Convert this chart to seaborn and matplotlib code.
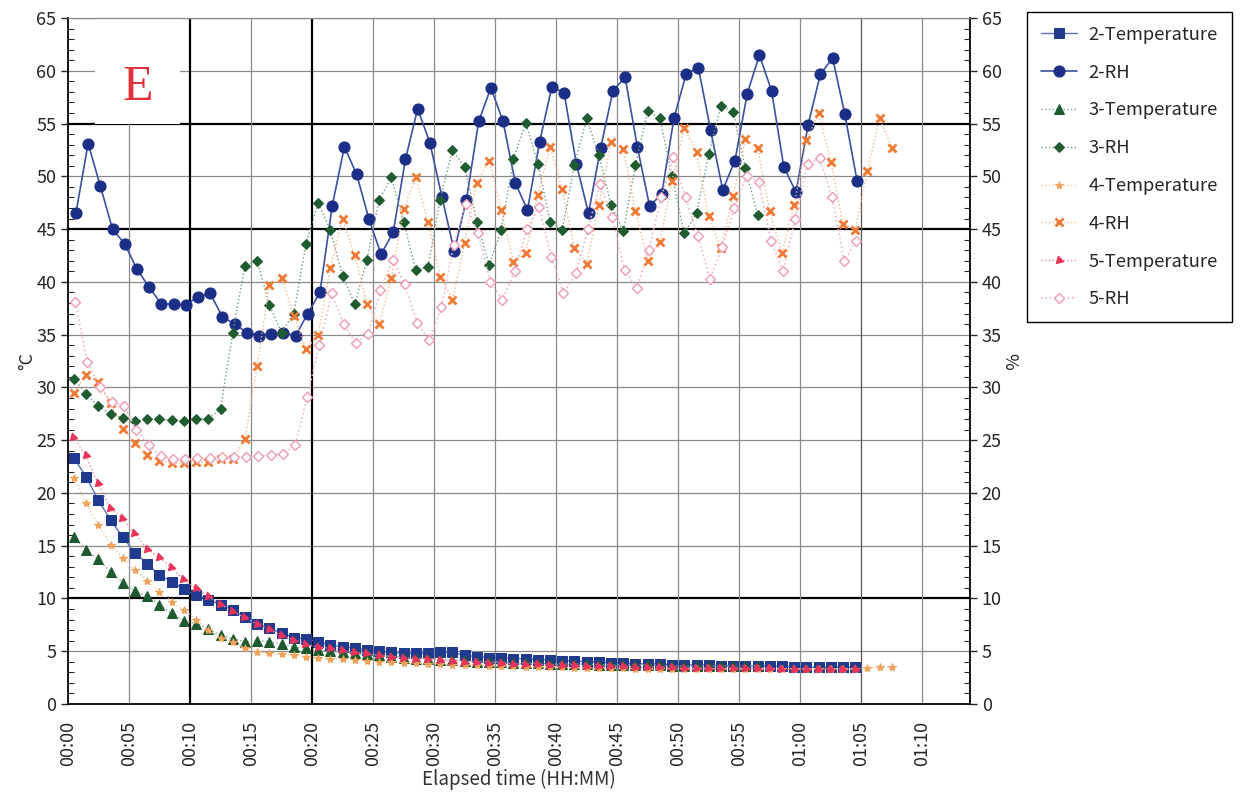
import numpy as np
import matplotlib
matplotlib.use("Agg")
import matplotlib.pyplot as plt
from matplotlib.patches import Rectangle
import seaborn as sns

# Readings every minute
t2_temp = [23.3, 21.5, 19.3, 17.4, 15.8, 14.3, 13.3, 12.2, 11.6, 10.9,
           10.3, 9.9, 9.4, 8.9, 8.2, 7.6, 7.2, 6.7, 6.3, 6.2,
           5.9, 5.6, 5.4, 5.3, 5.1, 5.0, 4.9, 4.8, 4.8, 4.8,
           4.9, 4.9, 4.6, 4.5, 4.4, 4.4, 4.3, 4.3, 4.2, 4.2,
           4.1, 4.1, 4.0, 4.0, 3.9, 3.9, 3.8, 3.8, 3.8, 3.7,
           3.7, 3.7, 3.7, 3.6, 3.6, 3.6, 3.6, 3.6, 3.6, 3.5,
           3.5, 3.5, 3.5, 3.5, 3.5]
rh2 = [46.5, 53.1, 49.1, 45.0, 43.6, 41.2, 39.5, 37.9, 37.9, 37.8,
       38.6, 38.9, 36.7, 36.0, 35.2, 34.9, 35.1, 35.2, 34.9, 37.0,
       39.0, 47.2, 52.8, 50.2, 46.0, 42.6, 44.7, 51.6, 56.4, 53.2,
       48.0, 42.9, 47.8, 55.2, 58.4, 55.2, 49.4, 46.8, 53.3, 58.5,
       57.9, 51.2, 46.5, 52.7, 58.1, 59.4, 52.8, 47.2, 48.3, 55.5,
       59.7, 60.3, 54.4, 48.7, 51.5, 57.8, 61.5, 58.1, 50.9, 48.5,
       54.9, 59.7, 61.2, 55.9, 49.6]
t3_temp = [15.8, 14.6, 13.7, 12.5, 11.5, 10.7, 10.2, 9.4, 8.6, 7.9,
           7.6, 7.1, 6.5, 6.2, 5.9, 6.0, 5.9, 5.7, 5.4, 5.3,
           5.1, 5.0, 4.9, 4.8, 4.7, 4.6, 4.5, 4.4, 4.3, 4.3,
           4.2, 4.2, 4.1, 4.0, 4.0, 4.0, 3.9, 3.9, 3.9, 3.8,
           3.8, 3.8, 3.8, 3.7, 3.7, 3.7, 3.7, 3.7, 3.7, 3.6,
           3.6, 3.6, 3.6, 3.6, 3.6, 3.6, 3.6]
rh3 = [30.8, 29.4, 28.2, 27.5, 27.1, 26.8, 27.0, 27.0, 26.9, 26.8,
       27.0, 27.0, 28.0, 35.2, 41.5, 42.0, 37.8, 35.2, 37.0, 43.6,
       47.5, 44.9, 40.6, 37.9, 42.1, 47.8, 49.9, 45.7, 41.1, 41.4,
       47.8, 52.5, 50.9, 45.7, 41.6, 44.9, 51.6, 55.1, 51.2, 45.7,
       44.9, 51.1, 55.5, 52.0, 47.3, 44.8, 51.1, 56.2, 55.5, 50.0,
       44.6, 46.5, 52.1, 56.7, 56.1, 50.8, 46.3]
t4_temp = [21.4, 19.0, 17.0, 15.1, 13.8, 12.7, 11.7, 10.6, 9.7, 8.9,
           8.0, 7.0, 6.3, 5.9, 5.3, 4.9, 4.8, 4.7, 4.6, 4.5,
           4.4, 4.3, 4.3, 4.2, 4.1, 4.0, 4.0, 3.9, 3.9, 3.8,
           3.8, 3.7, 3.7, 3.7, 3.6, 3.6, 3.6, 3.5, 3.5, 3.5,
           3.5, 3.4, 3.4, 3.4, 3.4, 3.4, 3.3, 3.3, 3.3, 3.3,
           3.3, 3.3, 3.3, 3.3, 3.3, 3.3, 3.3, 3.3, 3.3, 3.3,
           3.3, 3.3, 3.3, 3.3, 3.3, 3.4, 3.5, 3.5]
rh4 = [29.5, 31.2, 30.5, 28.5, 26.1, 24.7, 23.6, 23.0, 22.8, 22.8,
       22.9, 22.9, 23.2, 23.2, 25.1, 32.0, 39.7, 40.4, 36.8, 33.6,
       35.0, 41.3, 46.0, 42.5, 37.9, 36.0, 40.4, 46.9, 49.9, 45.7,
       40.5, 38.3, 43.7, 49.4, 51.5, 46.8, 41.9, 42.7, 48.2, 52.8,
       48.8, 43.2, 41.7, 47.3, 53.3, 52.6, 46.7, 42.0, 43.8, 49.6,
       54.6, 52.3, 46.2, 43.2, 48.1, 53.5, 52.7, 46.7, 42.7, 47.3,
       53.4, 56.0, 51.4, 45.5, 44.9, 50.5, 55.5, 52.7]
t5_temp = [25.3, 23.6, 20.9, 18.6, 17.6, 16.2, 14.7, 13.9, 13.0, 11.8,
           11.0, 10.2, 9.5, 8.8, 8.2, 7.6, 7.1, 6.5, 6.1, 5.7,
           5.4, 5.3, 5.1, 4.9, 4.8, 4.6, 4.5, 4.4, 4.3, 4.3,
           4.2, 4.1, 4.0, 4.0, 3.9, 3.9, 3.8, 3.8, 3.8, 3.7,
           3.7, 3.7, 3.6, 3.6, 3.6, 3.6, 3.5, 3.5, 3.5, 3.5,
           3.4, 3.4, 3.4, 3.4, 3.4, 3.4, 3.4, 3.4, 3.3, 3.3,
           3.3, 3.3, 3.3, 3.3, 3.3]
rh5 = [38.1, 32.4, 30.0, 28.6, 28.2, 26.0, 24.5, 23.5, 23.2, 23.2,
       23.3, 23.3, 23.4, 23.4, 23.4, 23.5, 23.6, 23.7, 24.5, 29.1,
       34.0, 38.9, 36.0, 34.2, 35.1, 39.2, 42.1, 39.8, 36.1, 34.5,
       37.6, 43.5, 47.4, 44.6, 40.0, 38.3, 41.0, 45.0, 47.1, 42.4,
       38.9, 40.8, 45.0, 49.3, 46.1, 41.1, 39.4, 43.0, 48.0, 51.8,
       48.0, 44.3, 40.3, 43.3, 47.0, 50.0, 49.5, 43.9, 41.0, 46.0,
       51.2, 51.7, 48.0, 42.0, 43.9]

# first reading time (minutes) of each logger channel
start_min = {"2-Temperature": 0.5, "2-RH": 0.65, "3-Temperature": 0.5, "3-RH": 0.5,
             "4-Temperature": 0.5, "4-RH": 0.5, "5-Temperature": 0.45, "5-RH": 0.6}

series = [
    ("2-Temperature", t2_temp, dict(color="#5a72bd", marker="s", markersize=6.5,
                                    markerfacecolor="#1f3a8f", markeredgecolor="#1f3a8f",
                                    linestyle="-", linewidth=1.0)),
    ("2-RH", rh2, dict(color="#3a50a0", marker="o", markersize=8,
                       markerfacecolor="#1c2f86", markeredgecolor="#1c2f86",
                       linestyle="-", linewidth=1.2)),
    ("3-Temperature", t3_temp, dict(color="#7fa88a", marker="^", markersize=6.5,
                                    markerfacecolor="#1e5a30", markeredgecolor="#1e5a30",
                                    linestyle=":", linewidth=1.0)),
    ("3-RH", rh3, dict(color="#6f9c7a", marker="D", markersize=5.5,
                       markerfacecolor="#1f5c2f", markeredgecolor="#1f5c2f",
                       linestyle=":", linewidth=1.0)),
    ("4-Temperature", t4_temp, dict(color="#f7c9a0", marker="*", markersize=6,
                                    markerfacecolor="#f2a35a", markeredgecolor="#f2a35a",
                                    linestyle=":", linewidth=1.0)),
    ("4-RH", rh4, dict(color="#f6b88a", marker="x", markersize=6,
                       markeredgewidth=2.0, markerfacecolor="#ef7a35",
                       markeredgecolor="#ef7a35", linestyle=":", linewidth=1.0)),
    ("5-Temperature", t5_temp, dict(color="#f08aa0", marker=(3, 0, 15), markersize=6.5,
                                    markerfacecolor="#e8335a", markeredgecolor="#e8335a",
                                    linestyle=":", linewidth=1.0)),
    ("5-RH", rh5, dict(color="#f4b3c6", marker="D", markersize=5,
                       markerfacecolor="white", markeredgecolor="#ef9ab4",
                       markeredgewidth=1.0, linestyle=":", linewidth=1.2)),
]

sns.set_style("white")
plt.rcParams["font.family"] = ["Noto Sans CJK JP", "DejaVu Sans"]

fig = plt.figure(figsize=(12.47, 7.98), dpi=100)
ax = fig.add_axes([0.0545, 0.1178, 0.7233, 0.8596])

# grid drawn by hand (Excel style: a few heavy lines)
for v in range(5, 70, 5):
    heavy = v in (10, 45, 55)
    ax.axhline(v, color="black" if heavy else "#8a8a8a",
               lw=1.6 if heavy else 0.9, zorder=0.5)
for m in range(5, 75, 5):
    heavy = m in (10, 20)
    ax.axvline(m, color="black" if heavy else ("#555555" if m == 65 else "#8a8a8a"),
               lw=1.6 if heavy else 0.9, zorder=0.5)

for label, vals, style in series:
    t = start_min[label] + np.arange(len(vals))
    sns.lineplot(x=t, y=vals, ax=ax, label=label, zorder=3, **style)

handles, labels = ax.get_legend_handles_labels()
ax.get_legend().remove()

ax.set_xlim(0, 73.9)
ax.set_ylim(0, 65)
ax.set_xticks(range(0, 75, 5))
ax.set_xticklabels([f"{m // 60:02d}:{m % 60:02d}" for m in range(0, 75, 5)],
                   rotation=90, fontsize=13)
ax.set_yticks(range(0, 70, 5))
ax.tick_params(axis="y", labelsize=13, direction="out", length=5, width=1)
ax.tick_params(axis="x", direction="out", length=4, width=0.8, pad=8)
ax.set_yticks(range(0, 66), minor=True)
ax.tick_params(axis="y", which="minor", direction="in", length=4, width=0.8)
ax.set_xlabel("Elapsed time (HH:MM)", fontsize=13.5, color="#333333", labelpad=2)
ax.set_ylabel("°C", fontsize=13, labelpad=0)

for side in ("left", "right", "bottom"):
    ax.spines[side].set_color("black")
    ax.spines[side].set_linewidth(1.3)
ax.spines["top"].set_color("#8a8a8a")
ax.spines["top"].set_linewidth(0.9)

ax2 = ax.twinx()
ax2.set_ylim(0, 65)
ax2.set_yticks(range(0, 70, 5))
ax2.set_yticks(range(0, 66), minor=True)
ax2.tick_params(axis="y", labelsize=13, direction="out", length=5, width=1)
ax2.tick_params(axis="y", which="minor", direction="in", length=4, width=0.8)
ax2.set_ylabel("%", fontsize=13, rotation=270, labelpad=12)
for s in ax2.spines.values():
    s.set_visible(False)

# panel letter on a white patch
ax.add_patch(Rectangle((0.030, 0.845), 0.094, 0.155, transform=ax.transAxes,
                       facecolor="white", edgecolor="none", zorder=1))
ax.text(0.0776, 0.898, "E", transform=ax.transAxes, ha="center", va="center",
        fontsize=36, color="#e0303a", family="Liberation Serif", zorder=2)

fig.legend(handles, labels, loc="upper left", bbox_to_anchor=(0.8236, 0.985),
           frameon=True, fancybox=False, edgecolor="black", framealpha=1,
           fontsize=13.2, labelspacing=1.08, handlelength=2.0, borderpad=0.75,
           handletextpad=0.6, borderaxespad=0)

fig.savefig("out.png", dpi=100, facecolor="white")
